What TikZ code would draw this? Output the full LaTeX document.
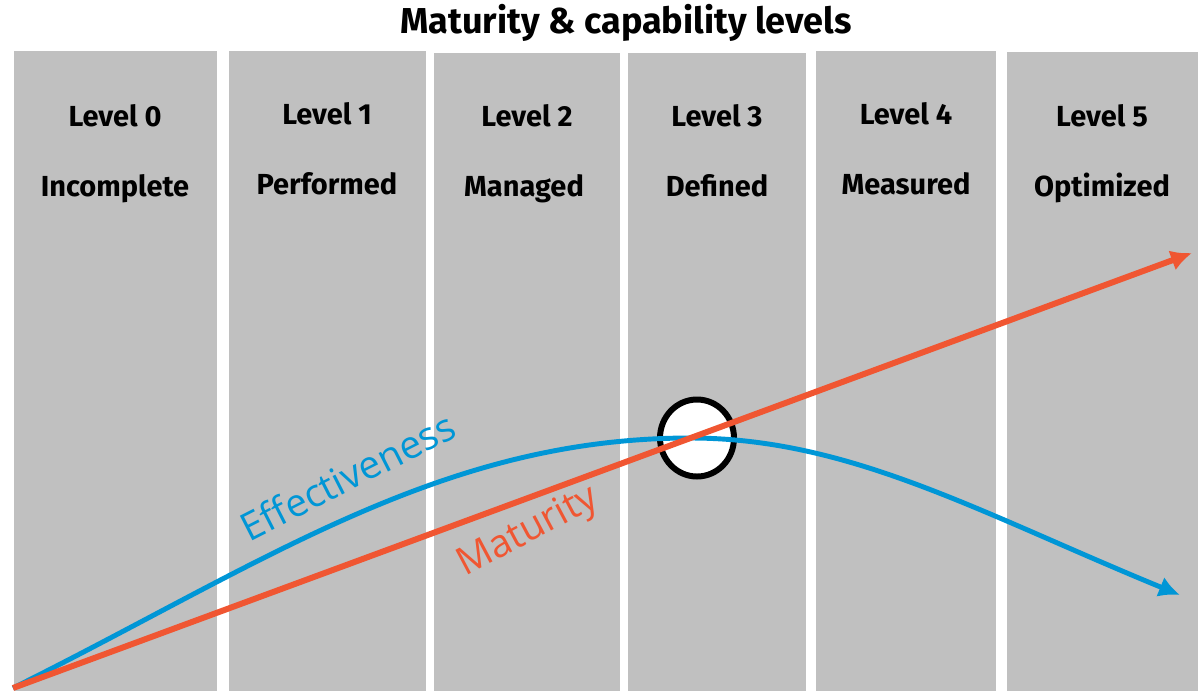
\documentclass[tikz,border=0pt]{standalone}
\usepackage{fontspec}
\setmainfont{Fira Sans}
\newfontfamily\labelfont{Open Sans}
\usetikzlibrary{arrows.meta,shapes.geometric}

\definecolor{lvlgrey}{RGB}{192,192,192}
\definecolor{matred}{RGB}{240,86,50}
\definecolor{effblue}{RGB}{0,150,214}

\tikzset{
  lvl/.style={anchor=base,inner sep=0pt,font=\bfseries\fontsize{16.5}{18}\selectfont},
  curvelabel/.style={anchor=base,inner sep=0pt,font=\labelfont\fontsize{22}{26}\selectfont}
}

\begin{document}
\begin{tikzpicture}[x=0.02cm,y=-0.02cm]
  \useasboundingbox (0,0) rectangle (1198,691);

  % the six level columns
  \fill[lvlgrey] (14,51) rectangle (217,691);
  \fill[lvlgrey] (229,51) rectangle (426,691);
  \fill[lvlgrey] (434,53) rectangle (620,691);
  \fill[lvlgrey] (628,53) rectangle (806,691);
  \fill[lvlgrey] (816,51) rectangle (996,691);
  \fill[lvlgrey] (1007,52) rectangle (1198,691);

  \node[anchor=base,inner sep=0pt,font=\bfseries\fontsize{20.5}{24}\selectfont] (title) at (626,33) {Maturity \& capability levels};

  \node[lvl] (L0) at (115,126) {Level 0};
  \node[lvl] (N0) at (115,196) {Incomplete};
  \node[lvl] (L1) at (327,124) {Level 1};
  \node[lvl] (N1) at (327,194) {Performed};
  \node[lvl] (L2) at (527,126) {Level 2};
  \node[lvl] (N2) at (524,196) {Managed};
  \node[lvl] (L3) at (717,126) {Level 3};
  \node[lvl] (N3) at (717,196) {Defined};
  \node[lvl] (L4) at (906,124) {Level 4};
  \node[lvl] (N4) at (906,194) {Measured};
  \node[lvl] (L5) at (1102,126) {Level 5};
  \node[lvl] (N5) at (1102,196) {Optimized};

  % crossing point of the two curves
  \node[ellipse,draw=black,fill=white,line width=3.4pt,minimum width=74*0.02cm,minimum height=77*0.02cm,inner sep=0pt] (cross) at (697,438) {};

  \coordinate (origin) at (13,688);
  \coordinate (top) at (690,438);
  \coordinate (matTip) at (1192,253);
  \coordinate (effTip) at (1180,595);

  \draw[effblue,line width=2.8pt,-{Latex[length=12pt,width=12pt]}] (origin) .. controls (262,564) and (440,438) .. (top)
        .. controls (850,438) and (980,513) .. (effTip);
  \draw[matred,line width=3.4pt,-{Latex[length=12pt,width=12pt]}] (origin) -- (matTip);

  \node[curvelabel,effblue,rotate=27] (effLabel) at (354,489) {Effectiveness};
  \node[curvelabel,matred,rotate=28] (matLabel) at (533,541) {Maturity};

\end{tikzpicture}
\end{document}
